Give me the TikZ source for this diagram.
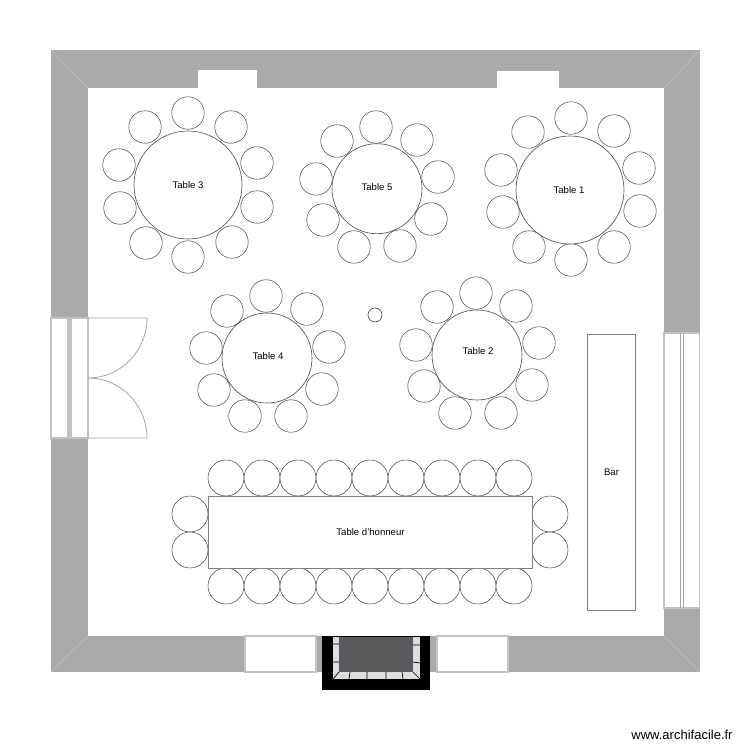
\documentclass[tikz,border=0pt]{standalone}
\usepackage{fontspec}
\setmainfont{Liberation Sans}
\usetikzlibrary{positioning}
\definecolor{wallgray}{HTML}{AAAAAA}
\definecolor{edgegray}{HTML}{C2C2C2}
\definecolor{linegray}{HTML}{4A4A4A}
\definecolor{rimgray}{HTML}{808080}
\definecolor{hearthgray}{HTML}{58595B}
\definecolor{stonegray}{HTML}{DCDCE2}
\begin{document}
\begin{tikzpicture}[
x=0.02cm, y=-0.02cm,
font=\fontsize{5.45pt}{6.5pt}\selectfont,
seat/.style={draw=linegray,fill=white,circle,line width=0.3pt,inner sep=0pt,minimum size=32.5*0.02cm},
headseat/.style={seat,minimum size=36*0.02cm},
roundtable/.style={draw=linegray,fill=white,circle,line width=0.35pt,inner sep=0pt},
longtable/.style={draw=rimgray,fill=white,line width=0.55pt,inner sep=0pt,anchor=north west},
tablelabel/.style={inner sep=0pt},
opening/.style={draw=edgegray,fill=white,line width=0.6pt},
mitre/.style={draw=edgegray,line width=0.3pt},
doorline/.style={draw=edgegray!85!black,line width=0.45pt}
]
    \useasboundingbox (0,0) rectangle (750,750);

    % Walls
    \fill [wallgray] (51,50) rectangle (700,672);
    \fill [white] (88,88) rectangle (664,636);
    \draw [mitre] (51,50) -- (88,88);
    \draw [mitre] (700,50) -- (664,88);
    \draw [mitre] (51,672) -- (88,636);
    \draw [mitre] (700,672) -- (664,636);

    % Windows in the top and bottom walls
    \fill [white] (198,70) rectangle (257,88);
    \fill [white] (497,71) rectangle (559,88);
    \draw [opening] (245,636) rectangle (316,672);
    \draw [opening] (437,636) rectangle (508,672);

    % Left door
    \draw [opening] (51,318) rectangle (88,438);
    \fill [edgegray] (67,318) rectangle (72,438);
    \draw [doorline] (88,318) -- (147,318) arc (0:90:59 and 60);
    \draw [doorline] (88,438) -- (147,438) arc (0:-90:59 and 60);

    % Right window
    \draw [opening] (664,333) rectangle (699.5,608);
    \draw [doorline] (680,333) -- (680,608) (683.5,333) -- (683.5,608);

    % Fireplace
    \fill [black] (322,636) rectangle (430,690);
    \fill [stonegray] (333,637) rectangle (420,679);
    \fill [hearthgray] (339,637) rectangle (413,672);
    \draw [black,line width=0.4pt] (339,672) -- (333,679) (413,672) -- (420,679)
        (350,672) -- (349,679) (367,672) -- (367,679) (386,672) -- (386,679) (402,672) -- (403,679)
        (333,644) -- (339,644) (333,662) -- (339,662) (413,645) -- (420,645) (413,662) -- (420,663);

    % Table 3
    \foreach \i/\sx/\sy in {1/188/113,2/145/127,3/231/127,4/119/165,5/257/163,6/120/208,7/257/207,8/146/243,9/232/242,10/188/257}
        \node [seat] (three\i) at (\sx,\sy) {};
    \node [roundtable,minimum size=108*0.02cm] (tablethree) at (188,185) {};
    \node [tablelabel] (labelthree) at (188,185) {Table 3};

    % Table 5
    \foreach \i/\sx/\sy in {1/376/127,2/337/141,3/417/140,4/316/179,5/438/177,6/323/220,7/431/219,8/354/247,9/400/246}
        \node [seat] (five\i) at (\sx,\sy) {};
    \node [roundtable,minimum size=90*0.02cm] (tablefive) at (377,188.7) {};
    \node [tablelabel] (labelfive) at (377,187) {Table 5};

    % Table 1
    \foreach \i/\sx/\sy in {1/571/118,2/528/132,3/614/131,4/501/170,5/639/168,6/503/212,7/640/211,8/529/247,9/614/247,10/571/260}
        \node [seat] (one\i) at (\sx,\sy) {};
    \node [roundtable,minimum size=108*0.02cm] (tableone) at (570,190) {};
    \node [tablelabel] (labelone) at (569,190) {Table 1};

    % Table 4
    \foreach \i/\sx/\sy in {1/266/296,2/227/311,3/307/309,4/206/348,5/329/347,6/214/390,7/322/389,8/245/416,9/291/416}
        \node [seat] (four\i) at (\sx,\sy) {};
    \node [roundtable,minimum size=90*0.02cm] (tablefour) at (267,358) {};
    \node [tablelabel] (labelfour) at (268,356) {Table 4};

    % Table 2
    \foreach \i/\sx/\sy in {1/476/293,2/437/307,3/516/306,4/416/345,5/539/343,6/424/386,7/532/385,8/455/413,9/501/413}
        \node [seat] (two\i) at (\sx,\sy) {};
    \node [roundtable,minimum size=90*0.02cm] (tabletwo) at (477,355) {};
    \node [tablelabel] (labeltwo) at (478,351.5) {Table 2};

    \node [roundtable,minimum size=14*0.02cm] (stool) at (375,315) {};

    % Table d'honneur
    \foreach \sx in {226,262,298,334,370,406,442,478,514} {
        \node [headseat] (top\sx) at (\sx,478) {};
        \node [headseat] (bottom\sx) at (\sx,586) {};
    }
    \foreach \sx/\sy in {190/514,190/550,550/514,550/550}
        \node [headseat] (side\sx\sy) at (\sx,\sy) {};
    \node [longtable,minimum width=324*0.02cm,minimum height=72*0.02cm] (honneur) at (208,496) {Table d'honneur};

    % Bar
    \node [longtable,minimum width=48*0.02cm,minimum height=276*0.02cm] (bar) at (587,334) {Bar};

    \node [font=\fontsize{7.4pt}{9pt}\selectfont,inner sep=0pt] (site) at (682,735) {www.archifacile.fr};
\end{tikzpicture}
\end{document}
